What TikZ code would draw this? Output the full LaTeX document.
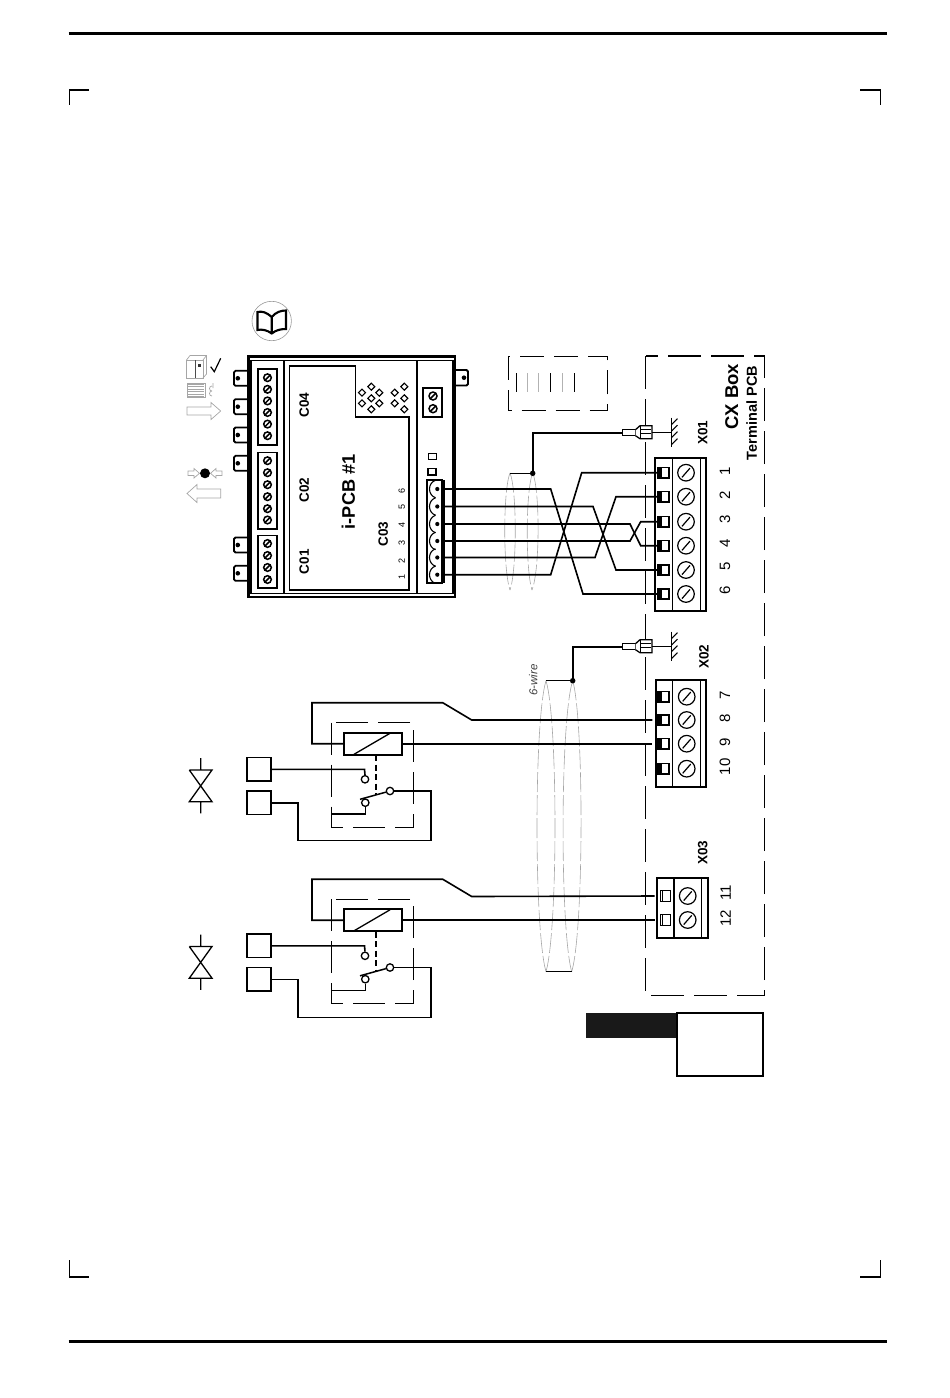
\documentclass[tikz,border=0pt]{standalone}
\usepackage{fontspec}
\setmainfont{Liberation Sans}
\newcommand{\fs}[1]{\fontsize{#1}{#1}\selectfont}
\newcommand{\scr}[3]{\draw[line width=1.5] (#1,#2) circle[radius=#3]; \draw[line width=1.5] (#1-#3*.7,#2+#3*.7) -- (#1+#3*.7,#2-#3*.7);}
\newcommand{\tscr}[2]{\draw[line width=1.2] (#1,#2) circle[radius=8.3]; \draw[line width=1.2] (#1-4,#2+4.6) -- (#1+4,#2-4.6);}
\newcommand{\tabL}[1]{\draw[line width=1.8,rounded corners=1.5] (247,#1-7.5) -- (234,#1-7.5) -- (234,#1+7.5) -- (247,#1+7.5); \fill (237.8,#1) circle[radius=2.3];}
\newcommand{\dm}[2]{\draw[line width=1.1] (#1-3.5,#2) -- (#1,#2-3.5) -- (#1+3.5,#2) -- (#1,#2+3.5) -- cycle;}
\newcommand{\plugearth}[1]{%
 \draw[line width=1.3,fill=white] (622.5,#1-3) rectangle (635.5,#1+3);
 \draw[line width=1.3,fill=white] (635.5,#1-3) -- (640,#1-7) -- (652,#1-7) -- (652,#1+6) -- (640,#1+6) -- (635.5,#1+3);
 \draw[line width=1] (640,#1-7) -- (640,#1+6) (640,#1-3) -- (651,#1-3) (640,#1+1) -- (651,#1+1);
 \draw[line width=1.5] (652,#1) -- (671.5,#1);
 \draw[line width=1.7] (671.5,#1-15) -- (671.5,#1+14);
 \foreach \k in {-8,-1.5,5,12}{\draw[line width=1.1] (671.5,#1+\k) -- (677.5,#1+\k-6);}
}
\tikzset{
 wire/.style={line width=1.6},
 hwire/.style={line width=2},
 shield/.style={line width=.6,draw=black!35,dash pattern=on 20pt off 3pt},
 cxdash/.style={line width=1.1,dash pattern=on 33pt off 10pt},
 rdash/.style={line width=1,dash pattern=on 32pt off 10pt},
 pin/.style={draw,line width=1.6,fill=white,minimum size=10.5pt,inner sep=0pt},
 hollowpin/.style={draw,line width=1.1,fill=white,minimum size=10.5pt,inner sep=0pt},
 sq/.style={draw,line width=1.7,fill=white,minimum width=24pt,minimum height=23.5pt,inner sep=0pt},
 bl/.style={font=\bfseries\fs{13.5},rotate=90,inner sep=0pt},
 num/.style={font=\fs{15},rotate=90,inner sep=0pt},
 smallnum/.style={font=\fs{9},rotate=90,inner sep=0pt},
 icon/.style={line width=.7,draw=black!35},
 blob/.style={circle,fill,inner sep=0pt,minimum size=5.5pt},
}
\begin{document}
\begin{tikzpicture}[x=1pt,y=-1pt,line join=miter]
\useasboundingbox (0,0) rectangle (950,1398);
% page furniture
\draw[line width=3] (68.5,33.3) -- (886.5,33.3);
\draw[line width=3] (68.5,1341) -- (886.5,1341);
\draw[line width=1.2] (89,90) -- (69.5,90) -- (69.5,105);
\draw[line width=1.2] (860,90) -- (880.7,90) -- (880.7,105);
\draw[line width=1.2] (69.5,1260) -- (69.5,1277) -- (89,1277);
\draw[line width=1.2] (880.7,1260) -- (880.7,1277) -- (860,1277);
% book icon
\draw[line width=.6,draw=black!40] (271.7,321) circle[radius=19.7];
\draw[line width=2.1] (271.7,317) .. controls (266,312) and (262,311) .. (257.5,312) -- (257.5,330) .. controls (262,329) and (267,330) .. (271.7,333.5) .. controls (276,330) and (281,329) .. (286,329) -- (286,310.5) .. controls (281,310.5) and (276,312) .. (271.7,317) -- (271.7,333.5);
% left icons
\draw[icon] (186.5,360) rectangle (203,378);
\draw[icon] (186.5,360) -- (190,355.5) -- (206.5,355.5) -- (206.5,374) -- (203,378) (203,360) -- (206.5,355.5);
\draw[icon,draw=black!70] (195,360) -- (195,378);
\fill[black!80] (198,363.5) rectangle (200.5,366.5);
\draw[line width=1.2] (210.7,366.7) -- (214.3,371.7) -- (220.7,358.3);
\foreach \yy in {384,386.5,389,391.5,394,396.5}{\draw[icon] (187,\yy) -- (204,\yy);}
\draw[icon] (187,383) rectangle (205,397.5);
\draw[icon] (212,386) arc[start angle=-90,end angle=-270,radius=2.5] (212,391) arc[start angle=-90,end angle=-270,radius=2.5] (213,383) -- (213,388);
\draw[icon] (187,407) -- (211,407) -- (211,402.5) -- (220.7,411) -- (211,419.5) -- (211,415) -- (187,415) -- cycle;
\fill (205,473.3) circle[radius=5];
\draw[icon] (188,471) -- (194,471) -- (194,468.5) -- (199.5,473.3) -- (194,478) -- (194,475.5) -- (188,475.5) -- cycle;
\draw[icon] (222,471) -- (216,471) -- (216,468.5) -- (210.5,473.3) -- (216,478) -- (216,475.5) -- (222,475.5) -- cycle;
\draw[icon] (220.7,489) -- (197,489) -- (197,484.5) -- (187,493.5) -- (197,502.5) -- (197,498) -- (220.7,498) -- cycle;
% PCB housing
\draw[line width=2.2] (248.5,356.5) rectangle (455,597);
\draw[line width=1.6] (251,360.5) rectangle (452.7,593.5);
\draw[line width=1.5] (284,360.5) -- (284,593.5);
\draw[line width=2] (417,360.5) -- (417,593.5);
\draw[line width=1.5] (289.5,366) -- (355.5,366) -- (355.5,417) -- (409,417) -- (409,590) -- (289.5,590) -- cycle;
\foreach \ty in {378.3,406.7,435,463.3,545,573.3}{\tabL{\ty}}
\draw[line width=1.8,rounded corners=1.5] (456,370) -- (468,370) -- (468,385.5) -- (456,385.5);
\fill (464,377.7) circle[radius=2.3];
\draw[line width=1.7] (258,369) rectangle (276.7,445);
\draw[line width=1.7] (258,452.5) rectangle (276.7,529);
\draw[line width=1.7] (258,535.5) rectangle (276.7,588);
\draw[line width=1.7] (423,388) rectangle (442,416.7);
\foreach \sy in {377.7,389.3,400.9,412.5,424.1,435.7}{\scr{267.5}{\sy}{3.8}}
\foreach \sy in {460.7,472.7,484.7,496.7,508.7,520}{\scr{267.5}{\sy}{3.8}}
\foreach \sy in {543.5,555.5,567.5,579.5}{\scr{267.5}{\sy}{3.8}}
\foreach \sy in {396,408.7}{\scr{433}{\sy}{4}}
\foreach \dx/\dy in {362/392.7,371.3/386.7,379.3/392.7,371.3/398.3,362/403.3,379.3/403.3,371.3/409.3,394.7/392.7,404.3/386.7,404.3/398.3,394.7/403.3,404.3/409.3}{\dm{\dx}{\dy}}
\draw[line width=1.4] (428.5,453.5) rectangle (436.5,459.5);
\draw[line width=1.4] (428,468.5) rectangle (436,475);
% C03 plug
\draw[line width=1.4] (427,480) rectangle (442,583);
\fill (441,480) rectangle (444.5,583);
\foreach \cn/\cy in {c1/489,c2/506.5,c3/524,c4/541,c5/557.5,c6/574.7}{
 \fill (437.3,\cy) circle[radius=2.1];
 \draw[line width=1.1] (435.5,\cy-8.7) .. controls (427.5,\cy-6) and (427.5,\cy+6) .. (435.5,\cy+8.7);
 \coordinate (\cn) at (444.5,\cy);
}
\node[bl] (lc04) at (304.3,405) {C04};
\node[bl] (lc02) at (304.3,490) {C02};
\node[bl] (lc01) at (304.3,561.7) {C01};
\node[bl] (lc03) at (383.3,534) {C03};
\node[rotate=90,inner sep=0pt,font=\bfseries\fs{18.2}] (lpcb) at (348.3,491.7) {i-PCB \#1};
\foreach \nn/\ny in {1/577.3,2/560.7,3/542.7,4/525,5/507.3,6/491}{\node[smallnum] (cn\nn) at (401.7,\ny) {\nn};}
% dashed frames
\draw[cxdash] (645.7,356) rectangle (764.5,995.7);
\draw[rdash,dash pattern=on 24pt off 10pt] (508.3,356) rectangle (607.3,410.7);
\foreach \gx/\gc in {516/black,527.7/black!30,538.7/black!30,550.3/black,562.3/black!30,574.3/black}{\draw[line width=.7,draw=\gc] (\gx,373) -- (\gx,392);}
% shields
\draw[shield] (510,473) .. controls (503,490) and (503,570) .. (510,590);
\draw[shield] (510,473) .. controls (517,490) and (517,570) .. (510,590);
\draw[shield] (532.7,473) .. controls (525.5,490) and (525.5,570) .. (532,590);
\draw[shield] (532.7,473) .. controls (540,490) and (540,570) .. (532,590);
\draw[shield] (546,680.7) .. controls (534,720) and (534,930) .. (546,971.7);
\draw[shield] (546,680.7) .. controls (558,720) and (558,930) .. (546,971.7);
\draw[shield] (572.7,680.7) .. controls (560,720) and (560,930) .. (571.7,971.7);
\draw[shield] (572.7,680.7) .. controls (584,720) and (584,930) .. (571.7,971.7);
\draw[line width=.7] (546,971.7) -- (571.7,971.7);
\node[rotate=90,inner sep=0pt,font=\itshape\fs{11.5},text=black!75] (lw) at (533.3,680) {6-wire};
% terminal blocks
\draw[line width=1.8] (655,457.7) rectangle (706,611);
\draw[line width=1.5] (672.3,457.7) -- (672.3,611) (700.7,457.7) -- (700.7,611);
\draw[line width=1.8] (655.7,680) rectangle (706,786.7);
\draw[line width=1.5] (672.3,680) -- (672.3,786.7) (700.7,680) -- (700.7,786.7);
\draw[line width=1.8] (656.7,877.7) rectangle (708.3,938.3);
\draw[line width=1.5] (674,877.7) -- (674,938.3) (701.7,877.7) -- (701.7,938.3);
\foreach \pn/\py in {1/472.7,2/496.7,3/521.7,4/545.7,5/570,6/594}{
 \node[pin] (p\pn) at (663.5,\py) {};
 \fill (658,\py-5.2) rectangle (661.5,\py+5.2);
 \tscr{686}{\py}
}
\foreach \pn/\py in {7/696.7,8/720,9/743.7,10/768.7}{
 \node[pin] (p\pn) at (663.5,\py) {};
 \fill (658,\py-5.2) rectangle (661.5,\py+5.2);
 \tscr{686.7}{\py}
}
\foreach \pn/\py in {11/896,12/920}{
 \node[hollowpin] (p\pn) at (665.5,\py) {};
 \draw[line width=1] (662.5,\py-5.2) -- (662.5,\py+5.2);
 \tscr{687.7}{\py}
}
\foreach \nn/\ny in {1/471,2/495,3/519.5,4/543,5/566.5,6/590}{\node[num] (n\nn) at (725,\ny) {\nn};}
\foreach \nn/\ny in {7/695.7,8/718,9/742.7,10/766.7}{\node[num] (n\nn) at (725,\ny) {\nn};}
\foreach \nn/\ny in {11/892.7,12/918.3}{\node[num] (n\nn) at (725.7,\ny) {\nn};}
\node[bl] (lx1) at (702.7,432.7) {X01};
\node[bl] (lx2) at (704,656.7) {X02};
\node[bl] (lx3) at (702.7,852.7) {X03};
\node[rotate=90,inner sep=0pt,font=\bfseries\fs{18.5}] (lcx) at (731.7,396.7) {CX Box};
\node[rotate=90,inner sep=0pt,font=\bfseries\fs{14.5}] (lterm) at (751.7,413) {Terminal PCB};
% X01 crossed wires
\draw[wire] (c1) -- (550.7,489) -- (583,594) -- (p6.west);
\draw[wire] (c2) -- (593,506.5) -- (616,570) -- (p5.west);
\draw[wire] (c3) -- (630,524) -- (640.7,545.7) -- (p4.west);
\draw[wire] (c4) -- (630,541) -- (640.7,521.7) -- (p3.west);
\draw[wire] (c5) -- (595,557.5) -- (616,496.7) -- (p2.west);
\draw[wire] (c6) -- (550.7,574.7) -- (581.7,472.7) -- (p1.west);
% earths
\plugearth{432.7}
\plugearth{646.7}
\node[blob] (d1) at (532.7,473.3) {};
\node[blob] (d2) at (572.7,680.7) {};
\coordinate (e1) at (622.5,432.7);
\coordinate (e2) at (622.5,646.7);
\coordinate (s1) at (510,473.3);
\coordinate (s2) at (546,680.7);
\draw[line width=1.7] (d1.center) -- (532.7,432.7) -- (e1);
\draw[line width=1.7] (d2.center) -- (572.7,646.7) -- (e2);
\draw[line width=.8] (s1) -- (d1);
\draw[line width=.8] (s2) -- (d2);
% relay groups
\foreach \rn/\off/\pa/\pb in {a/0/p8/p9,b/176.5/p11/p12}{
\begin{scope}[shift={(0,\off)}]
 \draw[rdash] (331.7,722.7) rectangle (413.3,827.3);
 \node[draw,line width=1.8,fill=none,minimum width=58pt,minimum height=22pt,inner sep=0pt] (rel\rn) at (373,743.7) {};
 \draw[line width=1.3] (354,754.3) -- (390,733.3);
 \draw[line width=1.8,dash pattern=on 6pt off 3.5pt] (375.7,755) -- (375.7,795);
 \node[sq] (sqa\rn) at (258.8,769.3) {};
 \node[sq] (sqb\rn) at (258.8,802.8) {};
 \node[circle,draw,line width=1.3,minimum size=7.4pt,inner sep=0pt] (ka\rn) at (365,779.3) {};
 \node[circle,draw,line width=1.3,minimum size=7.4pt,inner sep=0pt] (kb\rn) at (365.3,802.7) {};
 \node[circle,draw,line width=1.3,minimum size=7.4pt,inner sep=0pt] (kc\rn) at (390,791) {};
 \draw[line width=1.5] (360,799.3) -- (kc\rn);
 \draw[line width=1.6] (sqa\rn.east) -- (364.5,769.3) -- (ka\rn.north);
 \draw[line width=1.4] (sqb\rn.east) -- (298,802.8) -- (298,840.7) -- (431,840.7) -- (431,791) -- (kc\rn);
 \draw[line width=1.6] (kb\rn.south) -- (365.3,814) -- (331.7,814);
 \draw[wire] (rel\rn.west) -- (312,743.7) -- (312,702.7) -- (442.7,702.7) -- (471.7,720) -- ([xshift=-5pt]\pa.west);
 \draw[hwire,shorten >=5pt] (rel\rn.east) -- (rel\rn.east -| \pb.west);
 \draw[line width=1.3] (200.7,758) -- (200.7,770) (189.3,770) -- (212,770) -- (189.3,801.7) -- (212,801.7) -- (189.3,770) (200.7,801.7) -- (200.7,813.3);
\end{scope}
}
% legend box
\fill[black!90] (586,1012.5) rectangle (677,1037.7);
\draw[line width=1.5] (677,1013) rectangle (763,1076);
\end{tikzpicture}
\end{document}
